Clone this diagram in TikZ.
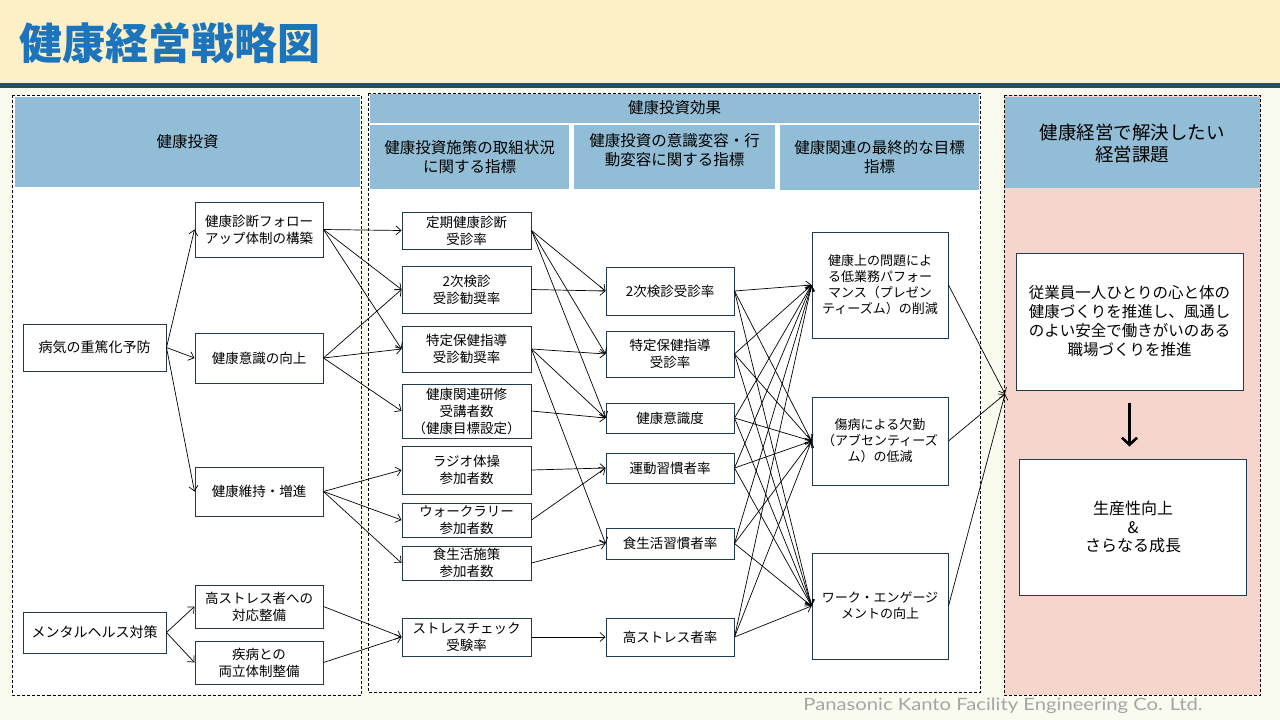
\documentclass[tikz,border=0pt]{standalone}
\usepackage{fontspec}
\usepackage{graphicx}
\setmainfont{Noto Sans CJK JP}
\newfontfamily\footfont{Lato}
\usetikzlibrary{arrows.meta}
\definecolor{bandcol}{HTML}{FEF0C6}
\definecolor{tealcol}{HTML}{244E63}
\definecolor{bgcol}{HTML}{FAFBEF}
\definecolor{titlecol}{HTML}{1C75BC}
\definecolor{hdrcol}{HTML}{92BDD6}
\definecolor{pinkcol}{HTML}{F6D5CC}
\definecolor{boxcol}{HTML}{203A4E}
\definecolor{footcol}{HTML}{A5A5A5}
\tikzset{
  box/.style={draw=boxcol, line width=1pt, fill=white, inner sep=0pt, align=center,
    font=\fontsize{13.5}{17}\selectfont},
  bigbox/.style={box, font=\fontsize{14}{17}\selectfont},
  goalbox/.style={box, font=\fontsize{13}{16}\selectfont},
  issuebox/.style={box, font=\fontsize{15.5}{19}\selectfont},
  hdrtext/.style={align=center, inner sep=0pt, font=\fontsize{15.5}{19}\selectfont},
  panel/.style={draw=black, line width=0.7pt, dash pattern=on 3pt off 2pt},
  conn/.style={draw=black, line width=0.7pt, -{Straight Barb[length=5pt,width=9pt]}},
  bigarrow/.style={draw=black, line width=2.6pt, -{Straight Barb[length=7pt,width=15pt]}}
}
\begin{document}
\begin{tikzpicture}[x=1pt,y=-1pt]
\useasboundingbox (0,0) rectangle (1280,720);
% background
\fill[bgcol] (0,0) rectangle (1280,720);
\fill[bandcol] (0,0) rectangle (1280,83);
\fill[tealcol] (0,83) rectangle (1280,87.5);
\node[anchor=west, inner sep=0pt, text=titlecol, font=\fontsize{43}{43}\selectfont\bfseries] (title) at (19,43) {健康経営戦略図};

% panels
\draw[panel, fill=white] (12.5,95) rectangle (361,695);
\fill[hdrcol] (15,96.5) rectangle (360,187);
\node[hdrtext] (h1) at (187.5,142) {健康投資};

\draw[panel, fill=white] (368,93) rectangle (980.5,692);
\fill[hdrcol] (370,93.5) rectangle (979,122.5);
\node[hdrtext] (h2) at (674.5,108) {健康投資効果};
\fill[hdrcol] (370,124.5) rectangle (569,189);
\node[hdrtext] (h2a) at (469.5,157.5) {健康投資施策の取組状況\\に関する指標};
\fill[hdrcol] (574,124.5) rectangle (775,189);
\node[hdrtext] (h2b) at (674.5,150.5) {健康投資の意識変容・行\\動変容に関する指標};
\fill[hdrcol] (780,124.5) rectangle (979,189.5);
\node[hdrtext] (h2c) at (879.5,157.5) {健康関連の最終的な目標\\指標};

\draw[panel, fill=pinkcol] (1004,95) rectangle (1260.5,695);
\fill[hdrcol] (1005,97) rectangle (1259.5,188);
\node[hdrtext, font=\fontsize{18.5}{21.5}\selectfont] (h3) at (1132,143.5) {健康経営で解決したい\\経営課題};

% left column
\node[bigbox, minimum width=143pt, minimum height=47pt] (n1) at (94.5,347.5) {病気の重篤化予防};
\node[bigbox, minimum width=143pt, minimum height=41pt] (n2) at (94.5,632.5) {メンタルヘルス対策};
\node[box, minimum width=128pt, minimum height=55pt] (a1) at (259,229.5) {健康診断フォロー\\アップ体制の構築};
\node[box, minimum width=128pt, minimum height=50pt] (a2) at (259,358) {健康意識の向上};
\node[box, minimum width=128pt, minimum height=49pt] (a3) at (259,491.5) {健康維持・増進};
\node[box, minimum width=128pt, minimum height=43pt] (a4) at (259,606.5) {高ストレス者への\\対応整備};
\node[box, minimum width=128pt, minimum height=43pt] (a5) at (259,662.5) {疾病との\\両立体制整備};

% column 2
\node[box, minimum width=129pt, minimum height=37pt] (b1) at (466.5,230.5) {定期健康診断\\受診率};
\node[box, minimum width=129pt, minimum height=47pt] (b2) at (466.5,289.5) {2次検診\\受診勧奨率};
\node[box, minimum width=129pt, minimum height=46pt] (b3) at (466.5,349) {特定保健指導\\受診勧奨率};
\node[box, minimum width=129pt, minimum height=54pt] (b4) at (466.5,411) {健康関連研修\\受講者数\\（健康目標設定）};
\node[box, minimum width=129pt, minimum height=48pt] (b5) at (466.5,470) {ラジオ体操\\参加者数};
\node[box, minimum width=129pt, minimum height=34pt] (b6) at (466.5,520) {ウォークラリー\\参加者数};
\node[box, minimum width=129pt, minimum height=34pt] (b7) at (466.5,563) {食生活施策\\参加者数};
\node[box, minimum width=129pt, minimum height=38pt] (b8) at (466.5,637) {ストレスチェック\\受験率};

% column 3
\node[box, minimum width=128pt, minimum height=48pt] (c1) at (670,291) {2次検診受診率};
\node[box, minimum width=128pt, minimum height=46pt] (c2) at (670,354) {特定保健指導\\受診率};
\node[box, minimum width=128pt, minimum height=30pt] (c3) at (670,418) {健康意識度};
\node[box, minimum width=128pt, minimum height=30pt] (c4) at (670,468) {運動習慣者率};
\node[box, minimum width=128pt, minimum height=31pt] (c5) at (670,543.5) {食生活習慣者率};
\node[box, minimum width=128pt, minimum height=38pt] (c6) at (670,637) {高ストレス者率};

% column 4
\node[goalbox, minimum width=136pt, minimum height=106pt] (d1) at (880,285) {健康上の問題によ\\る低業務パフォー\\マンス（プレゼン\\ティーズム）の削減};
\node[goalbox, minimum width=136pt, minimum height=88pt] (d2) at (880,441) {傷病による欠勤\\（アブセンティーズ\\ム）の低減};
\node[goalbox, minimum width=136pt, minimum height=106pt] (d3) at (880,606) {ワーク・エンゲージ\\メントの向上};

% right column
\node[issuebox, minimum width=227pt, minimum height=137pt] (e1) at (1129.5,321.5) {従業員一人ひとりの心と体の\\健康づくりを推進し、風通し\\のよい安全で働きがいのある\\職場づくりを推進};
\node[issuebox, font=\fontsize{16}{18.5}\selectfont, minimum width=227pt, minimum height=136pt] (e2) at (1133,527) {生産性向上\\\&\\さらなる成長};
\coordinate (m) at (1005,394);

% connectors: left
\draw[conn] (n1.east) -- (a1.west);
\draw[conn] (n1.east) -- (a2.west);
\draw[conn] (n1.east) -- (a3.west);
\draw[conn] (n2.east) -- (a4.west);
\draw[conn] (n2.east) -- (a5.west);
% column 1 -> 2
\draw[conn] (a1.east) -- (b1.west);
\draw[conn] (a1.east) -- (b2.west);
\draw[conn] (a1.east) -- (b3.west);
\draw[conn] (a2.east) -- (b2.west);
\draw[conn] (a2.east) -- (b3.west);
\draw[conn] (a2.east) -- (b4.west);
\draw[conn] (a3.east) -- (b5.west);
\draw[conn] (a3.east) -- (b6.west);
\draw[conn] (a3.east) -- (b7.west);
\draw[conn] (a4.east) -- (b8.west);
\draw[conn] (a5.east) -- (b8.west);
% column 2 -> 3
\draw[conn] (b1.east) -- (c1.west);
\draw[conn] (b1.east) -- (c2.west);
\draw[conn] (b1.east) -- (c3.west);
\draw[conn] (b2.east) -- (c1.west);
\draw[conn] (b3.east) -- (c2.west);
\draw[conn] (b3.east) -- (c3.west);
\draw[conn] (b3.east) -- (c5.west);
\draw[conn] (b4.east) -- (c3.west);
\draw[conn] (b5.east) -- (c4.west);
\draw[conn] (b6.east) -- (c4.west);
\draw[conn] (b7.east) -- (c5.west);
\draw[conn] (b8.east) -- (c6.west);
% column 3 -> 4
\foreach \s in {c1,c2,c3,c4,c5,c6}{
  \foreach \t in {d1,d2,d3}{
    \draw[conn] (\s.east) -- (\t.west);
  }
}
% column 4 -> issues
\draw[conn] (d1.east) -- (m);
\draw[conn] (d2.east) -- (m);
\draw[conn] (d3.east) -- (m);
\draw[bigarrow] ([yshift=-12pt]e1.south) -- ([yshift=12pt]e1.south |- e2.north);

% footer
\node[text=footcol, inner sep=0pt, font=\footfont\fontsize{17}{17}\selectfont] (foot) at (1003,706) {\scalebox{1.19}[1]{Panasonic Kanto Facility Engineering Co. Ltd.}};
\end{tikzpicture}
\end{document}
